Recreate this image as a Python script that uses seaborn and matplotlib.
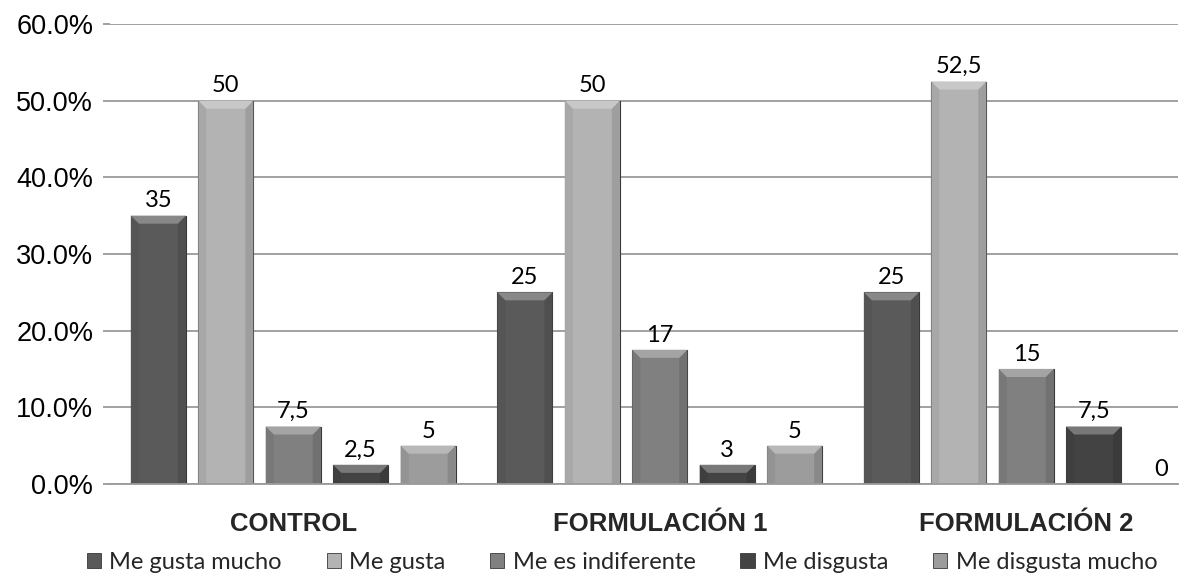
import matplotlib
matplotlib.use("Agg")
import matplotlib.pyplot as plt
import matplotlib.patches as mpatches
import matplotlib.colors as mcolors
from matplotlib.ticker import FuncFormatter
import seaborn as sns
import numpy as np
import pandas as pd

# ── data ──────────────────────────────────────────────────────
grupos = ["CONTROL", "FORMULACIÓN 1", "FORMULACIÓN 2"]
respuestas = ["Me gusta mucho", "Me gusta", "Me es indiferente",
              "Me disgusta", "Me disgusta mucho"]

gusta_mucho     = [35, 25, 25]
gusta           = [50, 50, 52.5]
indiferente     = [7.5, 17.5, 15]
disgusta        = [2.5, 2.5, 7.5]
disgusta_mucho  = [5, 5, 0]

# labels as printed on the chart
lbl_gusta_mucho    = ["35", "25", "25"]
lbl_gusta          = ["50", "50", "52,5"]
lbl_indiferente    = ["7,5", "17", "15"]
lbl_disgusta       = ["2,5", "3", "7,5"]
lbl_disgusta_mucho = ["5", "5", "0"]

yticks = [0, 10, 20, 30, 40, 50, 60]

colores = ["#5a5a5a", "#b3b3b3", "#808080", "#434343", "#9c9c9c"]

series = [gusta_mucho, gusta, indiferente, disgusta, disgusta_mucho]
etiquetas = [lbl_gusta_mucho, lbl_gusta, lbl_indiferente, lbl_disgusta, lbl_disgusta_mucho]

rows = []
for resp, vals in zip(respuestas, series):
    for g, v in zip(grupos, vals):
        rows.append({"grupo": g, "respuesta": resp, "valor": v})
df = pd.DataFrame(rows)


def mezcla(c, otro, f):
    a = np.array(mcolors.to_rgb(c))
    b = np.array(mcolors.to_rgb(otro))
    return tuple(a * (1 - f) + b * f)


# ── plot ──────────────────────────────────────────────────────
sns.set_theme(style="white")
plt.rcParams["font.family"] = ["Liberation Sans", "DejaVu Sans"]

fig = plt.figure(figsize=(11.94, 5.76), dpi=100)
ax = fig.add_axes([110/1194, 92/576, 1068/1194, 460/576])

sns.barplot(data=df, x="grupo", y="valor", hue="respuesta",
            order=grupos, hue_order=respuestas, palette=colores,
            width=0.92, gap=0.185, saturation=1, legend=False,
            edgecolor="#383838", linewidth=0.8, ax=ax)

ax.set_ylim(0, 60)
ax.set_xlim(-0.5, 2.414)

# bevel look: lighter top facet, slightly darker sides
ppx = (ax.get_xlim()[1] - ax.get_xlim()[0]) / 1068
ppy = 60 / 460
for cont, col in zip(ax.containers, colores):
    for p in cont.patches:
        x, w, h = p.get_x(), p.get_width(), p.get_height()
        alto_px = h / ppy
        if alto_px < 4:
            continue
        bev = min(8, alto_px / 2)
        bx, by = bev * ppx, bev * ppy
        z = p.get_zorder() + 0.1
        izq = mpatches.Polygon([(x, 0), (x, h), (x + bx, h - by), (x + bx, 0)],
                               closed=True, facecolor=mezcla(col, "black", 0.06),
                               edgecolor="none", zorder=z)
        der = mpatches.Polygon([(x + w, 0), (x + w, h), (x + w - bx, h - by), (x + w - bx, 0)],
                               closed=True, facecolor=mezcla(col, "black", 0.12),
                               edgecolor="none", zorder=z)
        top = mpatches.Polygon([(x, h), (x + w, h), (x + w - bx, h - by), (x + bx, h - by)],
                               closed=True, facecolor=mezcla(col, "white", 0.28),
                               edgecolor="none", zorder=z)
        for poly in (izq, der, top):
            ax.add_patch(poly)

for cont, labs in zip(ax.containers, etiquetas):
    ax.bar_label(cont, labels=labs, padding=3, fontsize=17,
                 family=["Lato", "DejaVu Sans"], color="black")

ax.set_yticks(yticks)
ax.yaxis.set_major_formatter(FuncFormatter(lambda v, p: f"{v:.1f}%"))
ax.yaxis.grid(True, color="#9a9a9a", linewidth=1.3)
ax.set_axisbelow(True)
ax.set_xlabel("")
ax.set_ylabel("")

for s in ["top", "right", "left"]:
    ax.spines[s].set_visible(False)
ax.spines["bottom"].set_color("#9a9a9a")
ax.spines["bottom"].set_linewidth(1.3)

ax.tick_params(axis="y", which="both", left=True, length=5, width=1.3,
               color="#9a9a9a", labelsize=19.5, pad=7, labelcolor="black")
ax.tick_params(axis="x", bottom=False, labelsize=18.5, pad=14)
for t in ax.get_xticklabels():
    t.set_fontweight("bold")

handles = [mpatches.Patch(facecolor=c, edgecolor="#383838", linewidth=0.6)
           for c in colores]
fig.legend(handles, respuestas, loc="center", bbox_to_anchor=(0.521, 0.024),
           ncol=5, frameon=False, handlelength=0.6, handleheight=0.6,
           handletextpad=0.35, columnspacing=1.9,
           prop={"family": ["Lato", "DejaVu Sans"], "size": 17})

fig.savefig("out.png", dpi=100)
